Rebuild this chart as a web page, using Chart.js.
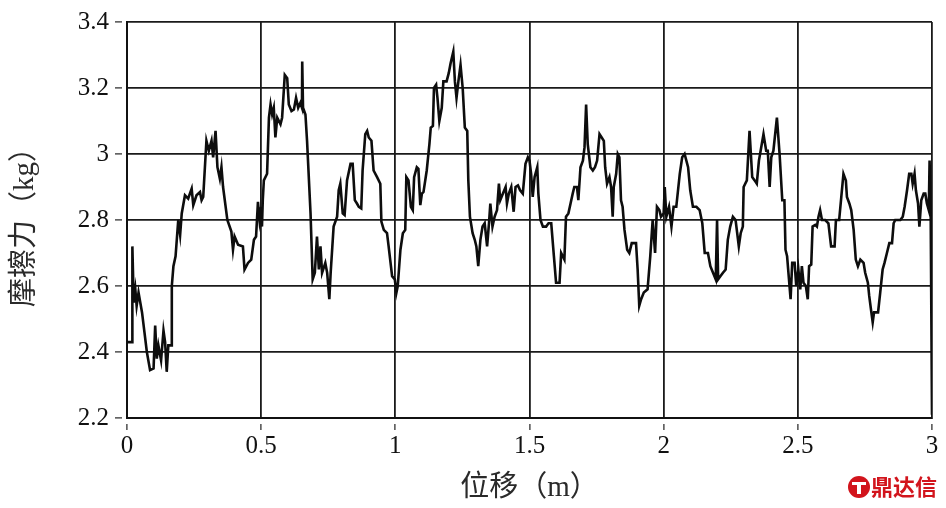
<!DOCTYPE html>
<html>
<head>
<meta charset="utf-8">
<script src="https://cdn.jsdelivr.net/npm/chart.js@4/dist/chart.umd.min.js"></script>
<style>
	html, body { margin:0; padding:0; background:#fff; }
	#wrap { width:946px; height:508px; }
</style>
</head>
<body>
<div id="wrap"><canvas id="chart"></canvas></div>
<script>
// displacement (m) / friction (kg) in half-metre pieces
const x1 = [0, 0.019, 0.020, 0.025, 0.031, 0.036, 0.043, 0.056, 0.065, 0.074, 0.086, 0.099, 0.105, 0.111, 0.117, 0.127, 0.136, 0.142, 0.148, 0.154, 0.164, 0.167, 0.173, 0.181, 0.191, 0.198, 0.204, 0.216, 0.228, 0.241, 0.247, 0.259, 0.272, 0.278, 0.284, 0.296, 0.305, 0.315, 0.321, 0.330, 0.337, 0.346, 0.352, 0.358, 0.374, 0.389, 0.395, 0.401, 0.414, 0.432, 0.438, 0.451, 0.463, 0.473, 0.481, 0.488, 0.494];
const y1 = [2.43, 2.43, 2.72, 2.55, 2.59, 2.54, 2.58, 2.52, 2.46, 2.40, 2.345, 2.35, 2.48, 2.38, 2.42, 2.375, 2.465, 2.43, 2.34, 2.42, 2.42, 2.60, 2.66, 2.69, 2.80, 2.755, 2.82, 2.875, 2.865, 2.895, 2.845, 2.875, 2.885, 2.86, 2.87, 3.04, 3.01, 3.04, 2.99, 3.07, 2.96, 2.925, 2.96, 2.90, 2.80, 2.765, 2.71, 2.75, 2.725, 2.72, 2.65, 2.67, 2.68, 2.74, 2.75, 2.855, 2.80];

const x2 = [0.500, 0.503, 0.506, 0.510, 0.522, 0.529, 0.535, 0.541, 0.547, 0.553, 0.560, 0.572, 0.578, 0.588, 0.597, 0.603, 0.613, 0.622, 0.630, 0.638, 0.646, 0.652, 0.653, 0.656, 0.665, 0.671, 0.684, 0.692, 0.700, 0.708, 0.715, 0.721, 0.727, 0.739, 0.746, 0.754, 0.759, 0.770, 0.783, 0.789, 0.795, 0.804, 0.811, 0.820, 0.833, 0.841, 0.849, 0.857, 0.864, 0.873, 0.878, 0.888, 0.895, 0.901, 0.911, 0.919, 0.932, 0.944, 0.948, 0.957, 0.969, 0.975, 0.988, 0.998];
const y2 = [2.84, 2.78, 2.86, 2.92, 2.94, 3.11, 3.15, 3.12, 3.14, 3.05, 3.11, 3.09, 3.11, 3.24, 3.23, 3.15, 3.13, 3.135, 3.17, 3.14, 3.155, 3.14, 3.28, 3.14, 3.12, 3.04, 2.82, 2.62, 2.64, 2.75, 2.65, 2.72, 2.64, 2.67, 2.64, 2.56, 2.64, 2.78, 2.81, 2.89, 2.91, 2.82, 2.815, 2.92, 2.97, 2.97, 2.86, 2.85, 2.84, 2.835, 2.95, 3.06, 3.07, 3.05, 3.04, 2.95, 2.93, 2.91, 2.795, 2.77, 2.76, 2.72, 2.63, 2.62];

const x3 = [1.004, 1.009, 1.019, 1.028, 1.037, 1.041, 1.049, 1.058, 1.065, 1.070, 1.080, 1.086, 1.093, 1.099, 1.105, 1.117, 1.127, 1.132, 1.140, 1.144, 1.152, 1.157, 1.164, 1.173, 1.179, 1.191, 1.199, 1.206, 1.216, 1.222, 1.228, 1.235, 1.243, 1.251, 1.259, 1.268, 1.272, 1.278, 1.288, 1.296, 1.302, 1.309, 1.317, 1.325, 1.333, 1.342, 1.349, 1.354, 1.362, 1.370, 1.379, 1.386, 1.391, 1.401, 1.411, 1.416, 1.423, 1.432, 1.441, 1.448, 1.457, 1.465, 1.475, 1.485, 1.494];
const y3 = [2.58, 2.60, 2.71, 2.76, 2.77, 2.93, 2.92, 2.84, 2.83, 2.93, 2.96, 2.955, 2.845, 2.88, 2.885, 2.95, 3.03, 3.08, 3.085, 3.20, 3.21, 3.17, 3.10, 3.14, 3.22, 3.22, 3.245, 3.275, 3.31, 3.22, 3.17, 3.22, 3.27, 3.20, 3.08, 3.07, 2.92, 2.81, 2.76, 2.74, 2.72, 2.66, 2.74, 2.78, 2.79, 2.72, 2.79, 2.85, 2.78, 2.81, 2.83, 2.91, 2.86, 2.88, 2.90, 2.85, 2.88, 2.90, 2.825, 2.90, 2.905, 2.89, 2.88, 2.97, 2.99];

const x4 = [1.500, 1.506, 1.512, 1.519, 1.529, 1.533, 1.541, 1.550, 1.562, 1.571, 1.581, 1.591, 1.599, 1.612, 1.618, 1.624, 1.630, 1.636, 1.645, 1.653, 1.661, 1.667, 1.677, 1.682, 1.690, 1.699, 1.705, 1.711, 1.717, 1.727, 1.736, 1.744, 1.752, 1.761, 1.769, 1.777, 1.782, 1.789, 1.798, 1.804, 1.810, 1.814, 1.823, 1.829, 1.835, 1.841, 1.847, 1.854, 1.864, 1.872, 1.881, 1.897, 1.903, 1.909, 1.916, 1.926, 1.940, 1.950, 1.959, 1.968, 1.975, 1.984, 1.990, 2.000];
const y4 = [2.98, 2.94, 2.87, 2.93, 2.96, 2.88, 2.80, 2.78, 2.78, 2.79, 2.79, 2.69, 2.61, 2.61, 2.70, 2.69, 2.68, 2.81, 2.82, 2.85, 2.88, 2.90, 2.90, 2.86, 2.96, 2.98, 3.02, 3.15, 3.03, 2.96, 2.95, 2.96, 2.98, 3.06, 3.05, 3.04, 2.96, 2.91, 2.93, 2.90, 2.81, 2.90, 2.94, 3.00, 2.99, 2.86, 2.84, 2.77, 2.71, 2.70, 2.73, 2.73, 2.65, 2.54, 2.56, 2.58, 2.59, 2.69, 2.80, 2.70, 2.84, 2.83, 2.81, 2.82];

const x5 = [2.004, 2.010, 2.020, 2.029, 2.037, 2.047, 2.060, 2.069, 2.078, 2.091, 2.099, 2.109, 2.122, 2.134, 2.144, 2.153, 2.165, 2.174, 2.184, 2.194, 2.199, 2.203, 2.212, 2.221, 2.231, 2.239, 2.248, 2.258, 2.268, 2.274, 2.280, 2.287, 2.295, 2.298, 2.310, 2.320, 2.330, 2.339, 2.347, 2.355, 2.372, 2.382, 2.388, 2.395, 2.401, 2.409, 2.422, 2.432, 2.442, 2.450, 2.454, 2.460, 2.467, 2.473, 2.479, 2.488, 2.494];
const y5 = [2.90, 2.81, 2.84, 2.78, 2.84, 2.84, 2.94, 2.99, 3.00, 2.96, 2.89, 2.84, 2.84, 2.83, 2.79, 2.70, 2.70, 2.66, 2.64, 2.62, 2.80, 2.62, 2.63, 2.64, 2.65, 2.74, 2.78, 2.81, 2.80, 2.76, 2.72, 2.76, 2.78, 2.90, 2.92, 3.07, 2.93, 2.92, 2.91, 2.98, 3.06, 3.01, 3.01, 2.90, 2.99, 3.01, 3.11, 3.00, 2.86, 2.86, 2.71, 2.69, 2.62, 2.56, 2.67, 2.67, 2.60];

const x6 = [2.502, 2.509, 2.515, 2.521, 2.530, 2.537, 2.542, 2.550, 2.555, 2.565, 2.571, 2.577, 2.583, 2.590, 2.602, 2.614, 2.624, 2.637, 2.642, 2.654, 2.662, 2.670, 2.679, 2.683, 2.692, 2.699, 2.708, 2.716, 2.724, 2.733, 2.745, 2.751, 2.761, 2.766, 2.774, 2.779, 2.784, 2.799, 2.807, 2.816, 2.823, 2.832, 2.841, 2.851, 2.857, 2.863, 2.882, 2.891, 2.898, 2.907, 2.915, 2.923, 2.928, 2.935, 2.940, 2.948, 2.953, 2.960, 2.969, 2.975, 2.981, 2.988, 2.991, 2.995, 3.000];
const y6 = [2.65, 2.59, 2.66, 2.61, 2.60, 2.56, 2.66, 2.665, 2.78, 2.785, 2.78, 2.81, 2.83, 2.80, 2.80, 2.79, 2.72, 2.72, 2.80, 2.80, 2.87, 2.94, 2.92, 2.87, 2.85, 2.83, 2.77, 2.68, 2.66, 2.68, 2.67, 2.64, 2.61, 2.57, 2.52, 2.49, 2.52, 2.52, 2.58, 2.65, 2.67, 2.70, 2.73, 2.73, 2.79, 2.80, 2.80, 2.81, 2.84, 2.89, 2.94, 2.94, 2.91, 2.94, 2.89, 2.85, 2.78, 2.86, 2.88, 2.88, 2.85, 2.83, 2.98, 2.83, 2.21];

const xTitle = '位移（m）';
const yTitle = '摩擦力（kg）';
const watermark = '鼎达信';

const serif = '"Liberation Serif", "Times New Roman", "Noto Sans CJK SC", serif';
const cjk = '"Liberation Serif", "Noto Sans CJK SC", serif';

const points = [];
[[x1, y1], [x2, y2], [x3, y3], [x4, y4], [x5, y5], [x6, y6]].forEach(([xs, ys]) => {
	xs.forEach((x, i) => points.push({ x: x, y: ys[i] }));
});

const fmt = v => String(Number(v.toFixed(1)));

const watermarkPlugin = {
	id: 'watermark',
	afterDraw(chart) {
		const ctx = chart.ctx;
		ctx.save();
		ctx.fillStyle = '#d2141c';
		ctx.beginPath();
		ctx.arc(859, 487, 11, 0, Math.PI * 2);
		ctx.fill();
		ctx.fillStyle = '#fff';
		ctx.fillRect(852, 482, 14, 3);
		ctx.fillRect(857, 485, 4, 9);
		ctx.fillStyle = '#d2141c';
		ctx.font = 'bold 22px "Noto Sans CJK SC"';
		ctx.textBaseline = 'middle';
		ctx.fillText(watermark, 871, 487);
		ctx.restore();
	}
};

new Chart(document.getElementById('chart'), {
	type: 'line',
	data: {
		datasets: [{
			data: points,
			borderColor: '#0d0d0d',
			borderWidth: 2.6,
			pointRadius: 0,
			tension: 0,
			fill: false
		}]
	},
	options: {
		responsive: true,
		maintainAspectRatio: false,
		animation: false,
		layout: { padding: { top: 22, right: 14, left: 0, bottom: 0 } },
		plugins: { legend: { display: false }, tooltip: { enabled: false } },
		scales: {
			x: {
				type: 'linear',
				min: 0, max: 3,
				afterFit: s => { s.height = 90; },
				ticks: { stepSize: 0.5, color: '#111', padding: 1, font: { family: serif, size: 25 }, callback: fmt },
				grid: { color: '#1a1a1a', lineWidth: 1.8, tickLength: 12, tickColor: '#222', tickWidth: 1.2, tickBorderDash: [0, 5, 7, 50] },
				border: { color: '#111', width: 2 },
				title: { display: true, text: xTitle, color: '#2a2a2a', font: { family: cjk, size: 29 }, padding: { top: 0, bottom: 2 } }
			},
			y: {
				min: 2.2, max: 3.4,
				afterFit: s => { s.width = 127; },
				ticks: { stepSize: 0.2, color: '#111', padding: 6, font: { family: serif, size: 25 }, callback: fmt },
				grid: { color: '#1a1a1a', lineWidth: 1.8, tickLength: 12, tickColor: '#222', tickWidth: 1.2, tickBorderDash: [7, 50] },
				border: { color: '#111', width: 2 },
				title: { display: true, text: yTitle, color: '#2a2a2a', font: { family: cjk, size: 29 }, padding: { top: 8, bottom: 0 } }
			}
		}
	},
	plugins: [watermarkPlugin]
});
</script>
</body>
</html>
